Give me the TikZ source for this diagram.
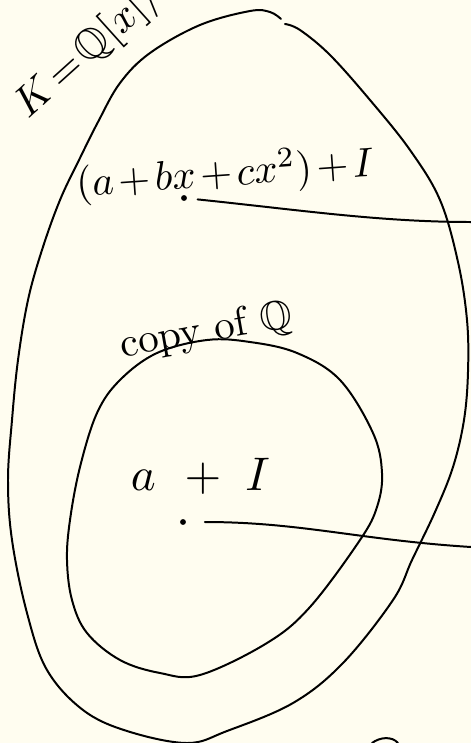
\documentclass[tikz,border=0pt]{standalone}
\usepackage{amssymb}
\definecolor{paper}{RGB}{255,253,240}

\begin{document}
\begin{tikzpicture}[
    x=0.03cm, y=-0.03cm,
    pen/.style={line width=1.7pt, line cap=round, line join=round},
    hand/.style={scale=3.5, transform shape, inner sep=0pt},
    dot/.style={circle, fill, inner sep=0pt, minimum size=5pt},
]
\medmuskip=2mu

% --- Page ---
\fill[paper] (0,0) rectangle (471,743);
\useasboundingbox (0,0) rectangle (471,743);
\clip (0,0) rectangle (471,743);

% --- The field K (outer blob, open at the little kink on top) ---
\draw[pen] plot[smooth, tension=0.6] coordinates {
    (285,24) (300,30) (330,55) (370,100) (410,150) (440,200) (458,262)
    (467,320) (468,372) (464,420) (453,467) (435,512) (412,560) (393,600)
    (343,663) (293,703) (227,731) (187,743) (127,731) (83,710) (47,670)
    (27,613) (12,540) (8,480) (12,420) (18,360) (28,300) (42,250) (60,200)
    (80,158) (98,122) (120,83) (150,53) (200,25) (250,11) (270,12) (281,19)};

% --- Copy of Q (inner blob) ---
\draw[pen] plot[smooth cycle, tension=0.6] coordinates {
    (207,340) (250,342) (297,353) (340,380) (373,433) (382,473) (377,507)
    (360,540) (310,607) (267,643) (200,675) (160,673) (120,660) (87,633)
    (72,600) (67,560) (70,520) (80,467) (97,413) (120,380) (157,353)};

% --- Bit of a stroke at the bottom edge ---
\draw[pen] (372,743) .. controls (380,737) and (392,736) .. (398,743);

% --- Labels ---
\node[hand, scale=1.03, rotate=42, anchor=base west] (kname) at (28,120)
    {$K\!=\!\mathbb{Q}[x]/I$};
\node[hand, rotate=4, anchor=base] (poly) at (226,186)
    {$(a+bx+cx^2)+I$};
\node[hand, rotate=10, anchor=base] (copyq) at (208,342)
    {copy of $\mathbb{Q}$};
\node[hand, scale=1.15, anchor=base west] (const) at (130,490)
    {$a\hspace{5pt}+\hspace{4pt}I$};

% --- Elements and their maps ---
\node[dot] (udot) at (184,198) {};
\node[dot] (ldot) at (183,522) {};
\coordinate (uend) at (471,222);
\coordinate (lend) at (471,547);

\draw[pen, shorten <=9pt] (udot) .. controls (300,210) and (380,222) .. (uend);
\draw[pen, shorten <=16pt] (ldot) .. controls (300,522) and (360,540) .. (lend);

\end{tikzpicture}
\end{document}
